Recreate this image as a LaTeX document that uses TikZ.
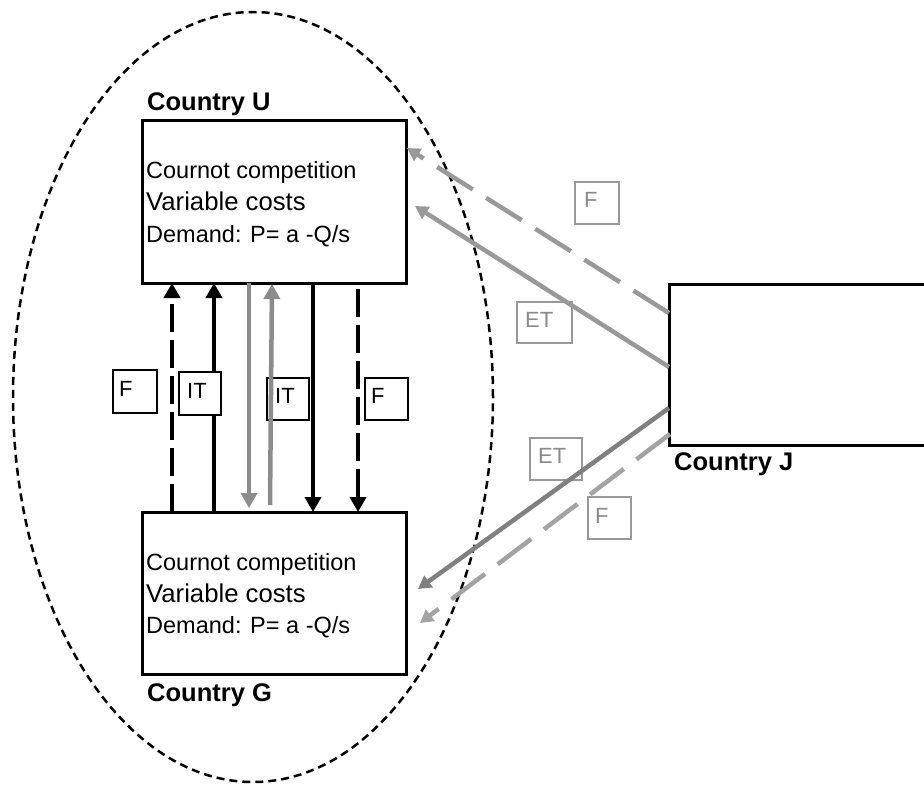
\documentclass[tikz,border=0pt]{standalone}
\usepackage{fontspec}
\setmainfont{Liberation Sans}
\usetikzlibrary{arrows.meta}
\definecolor{gvert}{HTML}{8C8C8C}
\definecolor{gup}{HTML}{999999}
\definecolor{gdark}{HTML}{808080}
\definecolor{glight}{HTML}{A3A3A3}
\definecolor{glab}{HTML}{8A8A8A}
\definecolor{glabline}{HTML}{999999}
\begin{document}
\begin{tikzpicture}[x=1pt,y=-1pt,
  cbox/.style={draw, line width=3pt, inner sep=0pt, outer sep=0pt, anchor=north west},
  txtA/.style={anchor=base west, inner sep=0pt, font=\fontsize{23.5}{28}\selectfont},
  txtB/.style={anchor=base west, inner sep=0pt, font=\fontsize{25.7}{30}\selectfont},
  ctry/.style={anchor=base west, inner sep=0pt, font=\fontsize{25.5}{30}\selectfont\bfseries},
  labbox/.style={draw, line width=1.5pt, fill=white, inner sep=0pt, outer sep=0pt, anchor=north west},
  labtxt/.style={anchor=base west, inner sep=0pt, font=\fontsize{22}{26}\selectfont},
  blk/.style={line width=4pt, -{Triangle[length=15pt,width=16pt]}},
  blkdash/.style={blk, dash pattern=on 28pt off 8pt},
  gryv/.style={line width=4.5pt, gvert, -{Triangle[length=15pt,width=16pt]}},
  gdiag/.style={line width=4.5pt, -{Triangle[length=13pt,width=14pt]}},
  gdash/.style={gdiag, dash pattern=on 42pt off 16pt},
  ell/.style={line width=2.5pt, dash pattern=on 8pt off 5pt}
]
\useasboundingbox (0,0) rectangle (924,785);
\clip (0,0) rectangle (924,785);

% enclosing ellipse
\draw[ell] (253,397) ellipse [x radius=240pt, y radius=385pt];

% country boxes
\node[cbox, minimum width=264pt, minimum height=163pt] (U) at (142,120) {};
\node[cbox, minimum width=264pt, minimum height=162pt] (G) at (142,512) {};
\node[cbox, minimum width=300pt, minimum height=161pt] (J) at (669,284) {};

\node[ctry] (Ul) at (147,110) {Country U};
\node[ctry] (Gl) at (147,701) {Country G};
\node[ctry] (Jl) at (674,470) {Country J};

\node[txtA] (Ua) at (146,178) {Cournot competition};
\node[txtB] (Ub) at (146,210) {Variable costs};
\node[txtA] (Uc) at (146,242) {Demand: P= a -Q/s};
\node[txtA] (Ga) at (146,570) {Cournot competition};
\node[txtB] (Gb) at (146,602) {Variable costs};
\node[txtA] (Gc) at (146,633) {Demand: P= a -Q/s};

% vertical arrows between U and G
\draw[blkdash] ([xshift=30pt]G.north west) -- ([xshift=30pt]U.south west);
\draw[blk] ([xshift=72pt]G.north west) -- ([xshift=72pt]U.south west);
\draw[gryv, shorten >=4pt] ([xshift=107pt]U.south west) -- ([xshift=107pt]G.north west);
\draw[blk] ([xshift=171pt]U.south west) -- ([xshift=171pt]G.north west);
\draw[blkdash] ([xshift=216pt,yshift=-6pt]U.south west) -- ([xshift=216pt]G.north west);

% left labels
\node[labbox, minimum width=44pt, minimum height=43pt] (lF1) at (113,370) {};
\node[labtxt] (lF1t) at (119,396) {F};
\node[labbox, minimum width=42pt, minimum height=43pt] (lIT1) at (179,372) {};
\node[labtxt] (lIT1t) at (187,398) {IT};
\node[labbox, minimum width=42pt, minimum height=42pt] (lIT2) at (267,378) {};
\node[labtxt] (lIT2t) at (275,403) {IT};
\node[labbox, minimum width=43pt, minimum height=42pt] (lF2) at (365,378) {};
\node[labtxt] (lF2t) at (371,403) {F};

\draw[gryv] ([xshift=128pt,yshift=7pt]G.north west) -- ([xshift=130pt,yshift=-1pt]U.south west);

% right labels
\node[labbox, draw=glabline, minimum width=44pt, minimum height=42pt] (rF1) at (575,182) {};
\node[labtxt, text=glab] (rF1t) at (584,207) {F};
\node[labbox, draw=glabline, minimum width=55pt, minimum height=41pt] (rET1) at (517,302) {};
\node[labtxt, text=glab] (rET1t) at (525,327) {ET};
\node[labbox, draw=glabline, minimum width=52pt, minimum height=42pt] (rET2) at (530,438) {};
\node[labtxt, text=glab] (rET2t) at (538,463) {ET};
\node[labbox, draw=glabline, minimum width=43pt, minimum height=42pt] (rF2) at (588,497) {};
\node[labtxt, text=glab] (rF2t) at (595,523) {F};

% diagonal arrows from J
\draw[gdash, gup] ([yshift=-29pt]J.north west) -- ([xshift=1pt,yshift=-28pt]U.north east);
\draw[gdiag, gup] ([yshift=-83pt]J.north west) -- ([xshift=9pt,yshift=-86pt]U.north east);
\draw[gdiag, gdark] ([yshift=-124pt]J.north west) -- ([xshift=12pt,yshift=-77pt]G.north east);
\draw[gdash, glight] ([xshift=1pt,yshift=-150pt]J.north west) -- ([xshift=14pt,yshift=-111pt]G.north east);
\end{tikzpicture}
\end{document}
